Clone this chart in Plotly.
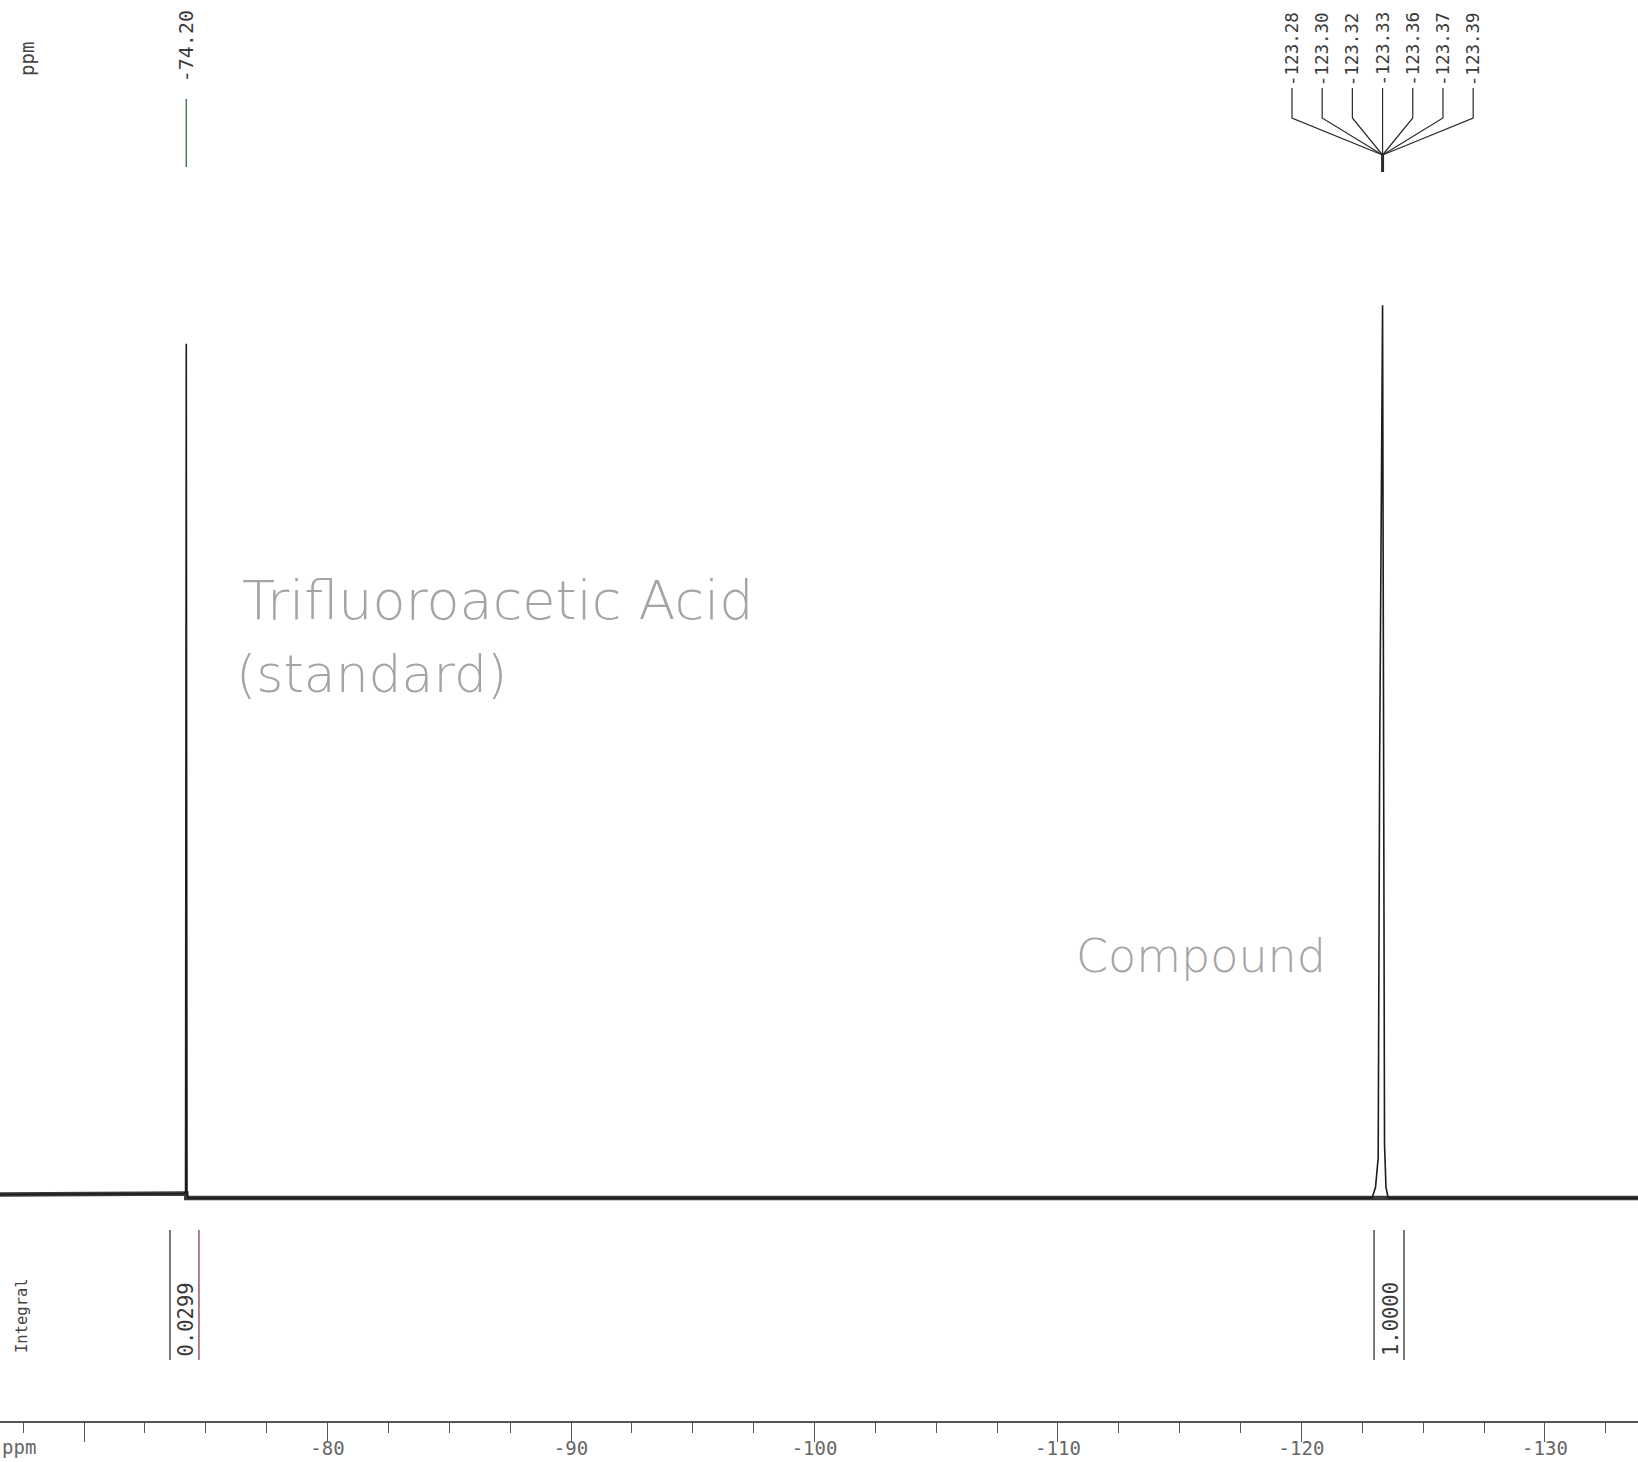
import plotly.graph_objects as go

W, H = 1638, 1462

# ---- spectrum window (ppm, high field to the right) ----
ppm_left, ppm_right = -66.55, -133.82

# 19F spectrum trace, read as (shift, relative intensity) pairs
spectrum_ppm = [-66.55, -74.08, -74.17, -74.20, -74.23, -74.30,
                -122.90, -123.04, -123.15, -123.21, -123.33, -123.38,
                -123.41, -123.47, -123.56, -133.82]
spectrum_int = [0.004, 0.005, 0.006, 0.957, 0.004, 0.0,
                0.0, 0.012, 0.045, 0.49, 1.0, 0.49,
                0.06, 0.012, 0.0, 0.0]

# baseline noise envelope
baseline_ppm = [-66.55, -74.20, -74.20, -133.82]
baseline_int = [0.004, 0.005, 0.0, 0.0]

# peak picking
tfa_shift = -74.20
tfa_label = "-74.20"
multiplet_center = -123.33
multiplet_labels = ["-123.28", "-123.30", "-123.32", "-123.33",
                    "-123.36", "-123.37", "-123.39"]

# integration regions (ppm) and values
integral_regions = [(-73.53, -74.72), (-122.98, -124.21)]
integral_values = ["0.0299", "1.0000"]
integral_colors = [("#333333", "#8a3a48"), ("#333333", "#333333")]

# axis ticks
major_ticks = [-70, -80, -90, -100, -110, -120, -130]
major_text = ["", "-80", "-90", "-100", "-110", "-120", "-130"]

# pencil notes
notes = [("Trifluoroacetic Acid", 240, 601, 54),
         ("(standard)", 234, 674, 52),
         ("Compound", 1074, 956, 46)]

MONO = "DejaVu Sans Mono"
INK = "#2a2a2a"


def yp(px):
    """pixel row -> paper fraction"""
    return 1 - px / H


def xp(px):
    return px / W


fig = go.Figure()

fig.add_trace(go.Scatter(
    x=baseline_ppm, y=baseline_int, mode="lines",
    line=dict(color="#3a3a3a", width=4.5), hoverinfo="skip", showlegend=False))
fig.add_trace(go.Scatter(
    x=spectrum_ppm, y=spectrum_int, mode="lines",
    line=dict(color="#1c1c1c", width=1.6), showlegend=False))
# invisible trace carrying the tick-label axis
fig.add_trace(go.Scatter(x=[ppm_left, ppm_right], y=[0, 0], xaxis="x2",
                         mode="lines", line=dict(width=0), hoverinfo="skip",
                         showlegend=False))

shapes = []
annotations = []

# single peak label
shapes.append(dict(type="line", xref="x", yref="paper",
                   x0=tfa_shift, x1=tfa_shift, y0=yp(99), y1=yp(167),
                   line=dict(color="#2f6b3a", width=1.3)))
annotations.append(dict(xref="x", yref="paper", x=tfa_shift, y=yp(84),
                        text=tfa_label, textangle=-90, showarrow=False,
                        xanchor="center", yanchor="bottom",
                        font=dict(family=MONO, size=20, color="#3a3a3a")))

# multiplet labels with fanned leader lines
spacing = 30.2 / (W / abs(ppm_right - ppm_left))
n = len(multiplet_labels)
for i, lab in enumerate(multiplet_labels):
    lx = multiplet_center - (i - (n - 1) / 2) * spacing
    annotations.append(dict(xref="x", yref="paper", x=lx, y=yp(88),
                            text=lab, textangle=-90, showarrow=False,
                            xanchor="center", yanchor="bottom",
                            font=dict(family=MONO, size=17.5, color="#3a3a3a")))
    shapes.append(dict(type="path", xref="x", yref="paper",
                       path=f"M {lx},{yp(88)} L {lx},{yp(118)} "
                            f"L {multiplet_center},{yp(155)}",
                       line=dict(color=INK, width=1.2)))
shapes.append(dict(type="line", xref="x", yref="paper",
                   x0=multiplet_center, x1=multiplet_center,
                   y0=yp(154), y1=yp(172), line=dict(color=INK, width=3)))

# integrals
for (a, b), val, (ca, cb) in zip(integral_regions, integral_values, integral_colors):
    shapes.append(dict(type="line", xref="x", yref="paper", x0=a, x1=a,
                       y0=yp(1230), y1=yp(1360), line=dict(color=ca, width=1.3)))
    shapes.append(dict(type="line", xref="x", yref="paper", x0=b, x1=b,
                       y0=yp(1230), y1=yp(1360), line=dict(color=cb, width=1.3)))
    annotations.append(dict(xref="x", yref="paper", x=(a + b) / 2, y=yp(1358),
                            text=val, textangle=-90, showarrow=False,
                            xanchor="center", yanchor="bottom", xshift=2,
                            font=dict(family=MONO, size=20.5, color="#3a3a3a")))

# axis captions
annotations.append(dict(xref="paper", yref="paper", x=xp(27), y=yp(59),
                        text="ppm", textangle=-90, showarrow=False,
                        xanchor="center", yanchor="middle",
                        font=dict(family=MONO, size=19, color="#444444")))
annotations.append(dict(xref="paper", yref="paper", x=xp(22), y=yp(1316),
                        text="Integral", textangle=-90, showarrow=False,
                        xanchor="center", yanchor="middle",
                        font=dict(family=MONO, size=15.5, color="#444444")))
annotations.append(dict(xref="paper", yref="paper", x=xp(0), y=yp(1447),
                        text="ppm", showarrow=False,
                        xanchor="left", yanchor="middle",
                        font=dict(family=MONO, size=19, color="#666666")))

# pencil notes
for text, x0, yc, size in notes:
    annotations.append(dict(xref="paper", yref="paper", x=xp(x0), y=yp(yc),
                            text=text, showarrow=False,
                            xanchor="left", yanchor="middle",
                            font=dict(family="DejaVu Sans", size=size,
                                      weight=200, color="#a4a4a4")))

fig.update_layout(
    width=W, height=H,
    margin=dict(l=0, r=0, t=0, b=0),
    paper_bgcolor="white", plot_bgcolor="white",
    showlegend=False,
    shapes=shapes, annotations=annotations,
    xaxis=dict(
        range=[ppm_left, ppm_right],
        anchor="free", position=(H - 1422) / H,
        showline=True, linecolor="#555555", linewidth=1.5,
        showgrid=False, zeroline=False,
        ticks="outside", ticklen=19, tickwidth=1.3, tickcolor="#555555",
        tickvals=major_ticks, showticklabels=False,
        minor=dict(dtick=2.5, tick0=0, ticks="outside", ticklen=10,
                   tickwidth=1.2, tickcolor="#555555"),
        automargin=False,
    ),
    xaxis2=dict(
        range=[ppm_left, ppm_right], matches="x", overlaying="x",
        anchor="free", position=(H - 1435) / H,
        showline=False, showgrid=False, zeroline=False, ticks="",
        tickvals=major_ticks, ticktext=major_text,
        tickfont=dict(family=MONO, size=19, color="#666666"),
        automargin=False,
    ),
    yaxis=dict(range=[-0.2957, 1.342], visible=False, automargin=False),
)

fig.write_html("out.html")
